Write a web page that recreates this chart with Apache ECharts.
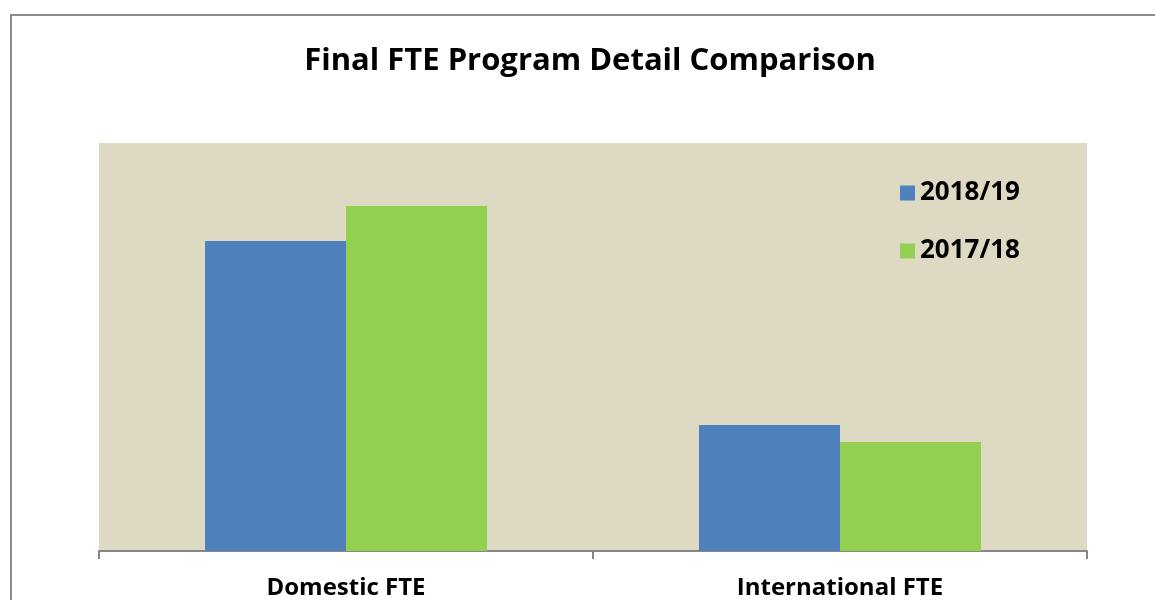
<!DOCTYPE html>
<html>
<head>
<meta charset="utf-8">
<style>
  html, body { margin: 0; padding: 0; background: #fff; }
  #chart { width: 1155px; height: 600px; }
</style>
<script src="https://cdn.jsdelivr.net/npm/echarts@6/dist/echarts.min.js"></script>
</head>
<body>
<div id="chart"></div>
<script>
// categories and series (no y scale shown, values read as relative heights)
var categories = ['Domestic FTE', 'International FTE'];
var seriesNames = ['2018/19', '2017/18'];
var fte201819 = [310, 126];
var fte201718 = [345, 109];
var yMax = 408;

var chart = echarts.init(document.getElementById('chart'));
var font = '"Open Sans", sans-serif';

var option = {
  animation: false,
  backgroundColor: '#fff',
  title: {
    text: 'Final FTE Program Detail Comparison',
    left: 585,
    textAlign: 'center',
    top: 41,
    textStyle: { fontFamily: font, fontWeight: 'bold', fontSize: 31, color: '#000' }
  },
  legend: {
    orient: 'vertical',
    left: 895,
    top: 175,
    icon: 'rect',
    itemWidth: 15,
    itemHeight: 15,
    itemGap: 32,
    itemTextGap: 9,
    itemStyle: { borderWidth: 0 },
    textStyle: { fontFamily: font, fontWeight: 'bold', fontSize: 26, color: '#000' },
    data: seriesNames
  },
  grid: {
    left: 99,
    right: 68,
    top: 143,
    bottom: 49,
    show: true,
    backgroundColor: '#ddd9c3',
    borderWidth: 0
  },
  xAxis: {
    type: 'category',
    data: categories,
    axisLine: { lineStyle: { color: '#868686', width: 2 } },
    axisTick: { show: true, length: 8, lineStyle: { color: '#868686', width: 2 } },
    axisLabel: { fontFamily: font, fontWeight: 'bold', fontSize: 24, color: '#000', margin: 25 }
  },
  yAxis: {
    type: 'value',
    min: 0,
    max: yMax,
    show: false,
    splitLine: { show: false }
  },
  series: [
    {
      name: seriesNames[0],
      type: 'bar',
      data: fte201819,
      barWidth: 141,
      barGap: '0%',
      itemStyle: { color: '#4f81bd' }
    },
    {
      name: seriesNames[1],
      type: 'bar',
      data: fte201718,
      barWidth: 141,
      barGap: '0%',
      itemStyle: { color: '#92d050' }
    }
  ],
  graphic: [{
    type: 'rect',
    shape: { x: 11, y: 15, width: 1300, height: 800 },
    style: { fill: 'none', stroke: '#8c8c8c', lineWidth: 2 },
    silent: true
  }]
};

chart.setOption(option);
</script>
</body>
</html>
